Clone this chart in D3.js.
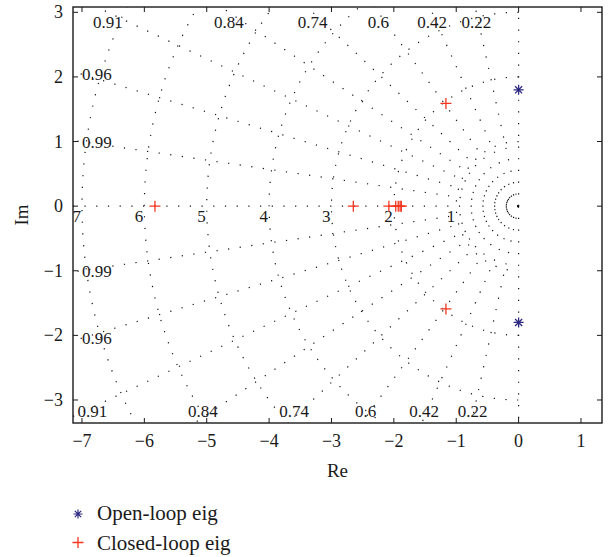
<!DOCTYPE html>
<html>
<head>
<meta charset="utf-8">
<script src="https://cdn.jsdelivr.net/npm/d3@7"></script>
<style>
  body { margin: 0; background: #fff; }
  text { font-family: "Liberation Serif", "Times New Roman", serif; fill: #1a1a1a; }
</style>
</head>
<body>
<div id="chart"></div>
<script>
// pole map values
const openLoopRe = [0, 0];
const openLoopIm = [1.8, -1.8];
const closedLoopRe = [-5.83, -2.65, -2.08, -1.97, -1.93, -1.9, -1.88, -1.165, -1.165];
const closedLoopIm = [0, 0, 0, 0, 0, 0, 0, 1.59, -1.59];

// s-grid
const dampingValues = [0.22, 0.42, 0.6, 0.74, 0.84, 0.91, 0.96, 0.99];
const dampingLabels = ['0.22', '0.42', '0.6', '0.74', '0.84', '0.91', '0.96', '0.99'];
const naturalFreqs = [1, 2, 3, 4, 5, 6, 7];

const xTicks = [-7, -6, -5, -4, -3, -2, -1, 0, 1];
const yTicks = [-3, -2, -1, 0, 1, 2, 3];
const legendLabels = ['Open-loop eig', 'Closed-loop eig'];

const W = 612;
const H = 557;
const plot = {left: 73, right: 602, top: 7, bottom: 423};

const svg = d3.select('#chart')
    .append('svg')
    .attr('width', W)
    .attr('height', H);

const x = d3.scaleLinear()
    .domain([-7.144, 1.337])
    .range([plot.left, plot.right]);
const y = d3.scaleLinear()
    .domain([3.082, -3.356])
    .range([plot.top, plot.bottom]);

svg.append('clipPath')
    .attr('id', 'clip')
    .append('rect')
    .attr('x', plot.left)
    .attr('y', plot.top)
    .attr('width', plot.right - plot.left)
    .attr('height', plot.bottom - plot.top);

const grid = svg.append('g')
    .attr('clip-path', 'url(#clip)')
    .attr('stroke', '#111')
    .attr('stroke-width', 1.2)
    .attr('fill', 'none');
const dots = '1.2,10.5';

// damping rays from the origin
dampingValues.forEach(function(z) {
  const s = Math.sqrt(1 - z * z);
  [1, -1].forEach(function(sign) {
    const far = 20;
    grid.append('line')
        .attr('x1', x(0)).attr('y1', y(0))
        .attr('x2', x(-far * z)).attr('y2', y(sign * far * s))
        .attr('stroke-dasharray', dots);
  });
});

// real axis (left half) and imaginary axis
grid.append('line')
    .attr('x1', x(0)).attr('y1', y(0))
    .attr('x2', x(-20)).attr('y2', y(0))
    .attr('stroke-dasharray', dots);
grid.append('line')
    .attr('x1', x(0)).attr('y1', y(0))
    .attr('x2', x(0)).attr('y2', y(20))
    .attr('stroke-dasharray', dots);
grid.append('line')
    .attr('x1', x(0)).attr('y1', y(0))
    .attr('x2', x(0)).attr('y2', y(-20))
    .attr('stroke-dasharray', dots);

// natural frequency semicircles
naturalFreqs.forEach(function(wn) {
  const rx = x(0) - x(-wn);
  const ry = y(-wn) - y(0);
  grid.append('path')
      .attr('d', `M${x(0)},${y(wn)} A${rx},${ry} 0 0 0 ${x(0)},${y(-wn)}`)
      .attr('stroke-dasharray', dots);
});

// damping labels
const labels = svg.append('g').style('font-size', '17px');
dampingValues.forEach(function(z, i) {
  const cot = z / Math.sqrt(1 - z * z);
  const yAtLeft = 7 / cot;
  if (yAtLeft > 3) {
    labels.append('text')
        .attr('x', x(-3 * cot))
        .attr('y', y(3) + 16)
        .attr('text-anchor', 'middle')
        .text(dampingLabels[i]);
    const xb = Math.max(-3.27 * cot, x.domain()[0] + 0.31);
    labels.append('text')
        .attr('x', x(xb))
        .attr('y', y(-3.27))
        .attr('text-anchor', 'middle')
        .text(dampingLabels[i]);
  } else {
    [1, -1].forEach(function(sign) {
      labels.append('text')
          .attr('x', x(-7))
          .attr('y', y(sign * yAtLeft) + 6)
          .attr('text-anchor', 'start')
          .text(dampingLabels[i]);
    });
  }
});

// natural frequency labels
naturalFreqs.forEach(function(wn) {
  labels.append('text')
      .attr('x', x(-wn) - 1)
      .attr('y', y(0) + 16)
      .attr('text-anchor', 'end')
      .text(wn);
});

// closed-loop poles
const red = '#f5351f';
const blue = '#2e2a84';
svg.append('g')
    .selectAll('path')
    .data(closedLoopRe.map((d, i) => [d, closedLoopIm[i]]))
    .enter()
    .append('path')
    .attr('d', (d) => `M${x(d[0]) - 5.5},${y(d[1])}h11M${x(d[0])},${y(d[1]) - 5.5}v11`)
    .attr('stroke', red)
    .attr('stroke-width', 1.3)
    .attr('fill', 'none');

// open-loop poles
function star(cx, cy, r) {
  const k = r * Math.SQRT1_2;
  return `M${cx - r},${cy}h${2 * r}M${cx},${cy - r}v${2 * r}` +
    `M${cx - k},${cy - k}l${2 * k},${2 * k}M${cx - k},${cy + k}l${2 * k},${-2 * k}`;
}
svg.append('g')
    .selectAll('path')
    .data(openLoopRe.map((d, i) => [d, openLoopIm[i]]))
    .enter()
    .append('path')
    .attr('d', (d) => star(x(d[0]), y(d[1]), 5))
    .attr('stroke', blue)
    .attr('stroke-width', 1.3)
    .attr('fill', 'none');

// axes box and ticks
const frame = svg.append('g');
frame.append('rect')
    .attr('x', plot.left)
    .attr('y', plot.top)
    .attr('width', plot.right - plot.left)
    .attr('height', plot.bottom - plot.top)
    .attr('fill', 'none')
    .attr('stroke', '#1a1a1a')
    .attr('stroke-width', 1.4);

const tickLen = 5;
xTicks.forEach(function(t) {
  frame.append('line')
      .attr('x1', x(t)).attr('x2', x(t))
      .attr('y1', plot.bottom).attr('y2', plot.bottom - tickLen)
      .attr('stroke', '#1a1a1a');
  frame.append('line')
      .attr('x1', x(t)).attr('x2', x(t))
      .attr('y1', plot.top).attr('y2', plot.top + tickLen)
      .attr('stroke', '#1a1a1a');
  frame.append('text')
      .attr('x', x(t))
      .attr('y', 447)
      .attr('text-anchor', 'middle')
      .style('font-size', '18px')
      .text(t < 0 ? '\u2212' + Math.abs(t) : t);
});
yTicks.forEach(function(t) {
  frame.append('line')
      .attr('x1', plot.left).attr('x2', plot.left + tickLen)
      .attr('y1', y(t)).attr('y2', y(t))
      .attr('stroke', '#1a1a1a');
  frame.append('line')
      .attr('x1', plot.right).attr('x2', plot.right - tickLen)
      .attr('y1', y(t)).attr('y2', y(t))
      .attr('stroke', '#1a1a1a');
  frame.append('text')
      .attr('x', 63)
      .attr('y', y(t) + 6)
      .attr('text-anchor', 'end')
      .style('font-size', '18px')
      .text(t < 0 ? '\u2212' + Math.abs(t) : t);
});

svg.append('text')
    .attr('x', (plot.left + plot.right) / 2)
    .attr('y', 477)
    .attr('text-anchor', 'middle')
    .style('font-size', '19px')
    .text('Re');
svg.append('text')
    .attr('transform', `translate(28, ${(plot.top + plot.bottom) / 2}) rotate(-90)`)
    .attr('text-anchor', 'middle')
    .style('font-size', '19px')
    .text('Im');

// legend
const legend = svg.append('g');
legend.append('path')
    .attr('d', star(78, 514, 4.5))
    .attr('stroke', blue)
    .attr('stroke-width', 1.2)
    .attr('fill', 'none');
legend.append('path')
    .attr('d', 'M72.5,542.5h11M78,537v11')
    .attr('stroke', red)
    .attr('stroke-width', 1.3)
    .attr('fill', 'none');
legend.selectAll('text')
    .data(legendLabels)
    .enter()
    .append('text')
    .attr('x', 97)
    .attr('y', (d, i) => 520 + i * 30)
    .style('font-size', '21px')
    .text((d) => d);
</script>
</body>
</html>
